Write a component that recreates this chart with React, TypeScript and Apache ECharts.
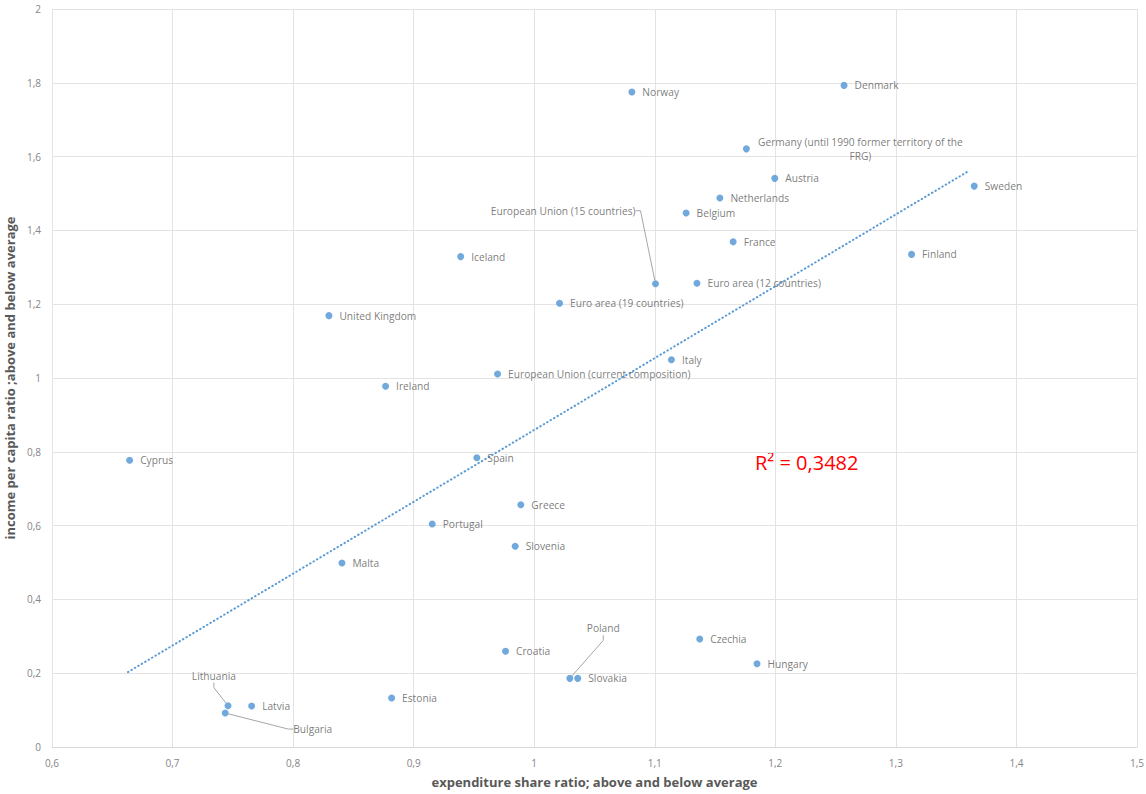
import React, { useEffect, useRef } from "react";
import * as echarts from "echarts";

const names = [
  "Norway", "Denmark", "Germany (until 1990 former territory of the\nFRG)", "Austria", "Netherlands",
  "Belgium", "France", "Sweden", "Finland", "Euro area (12 countries)", "European Union (15 countries)",
  "Iceland", "Euro area (19 countries)", "United Kingdom", "Ireland", "Cyprus", "Malta",
  "European Union (current composition)", "Italy", "Spain", "Greece", "Portugal", "Slovenia",
  "Lithuania", "Bulgaria", "Latvia", "Estonia", "Croatia", "Poland", "Slovakia", "Czechia", "Hungary",
];
const expenditure = [
  1.081, 1.257, 1.176, 1.1995, 1.154,
  1.126, 1.165, 1.365, 1.313, 1.135, 1.1006,
  0.939, 1.021, 0.8297, 0.8767, 0.6644, 0.8405,
  0.9696, 1.1138, 0.9524, 0.9889, 0.9154, 0.9842,
  0.746, 0.7437, 0.7656, 0.8817, 0.9762, 1.0295, 1.0361, 1.1373, 1.1848,
];
const income = [
  1.775, 1.793, 1.621, 1.541, 1.488,
  1.447, 1.369, 1.52, 1.335, 1.257, 1.2555,
  1.329, 1.2024, 1.169, 0.9775, 0.777, 0.4986,
  1.0108, 1.0496, 0.784, 0.6567, 0.6043, 0.5438,
  0.112, 0.092, 0.111, 0.1328, 0.2593, 0.186, 0.186, 0.2927, 0.2258,
];
const trendX = [0.663, 1.3604];
const trendY = [0.203, 1.561];
const r2Text = "R² = 0,3482";
const xTitle = "expenditure share ratio; above and below average";
const yTitle = "income per capita ratio ;above and below average";

const leaderNames = ["European Union (15 countries)", "Lithuania", "Bulgaria", "Poland"];

const fmt = (v: number) => String(Number(v.toFixed(1))).replace(".", ",");

export default function App() {
  const ref = useRef<HTMLDivElement>(null);
  useEffect(() => {
    if (!ref.current) return;
    const chart = echarts.init(ref.current, undefined, { renderer: "svg" });
    const font = "'Open Sans', 'Noto Sans', sans-serif";
    const data = names.map((n, i) => ({
      name: n,
      value: [expenditure[i], income[i]],
      labelLine: { show: leaderNames.includes(n) },
    }));
    chart.setOption({
      animation: false,
      backgroundColor: "#ffffff",
      grid: { left: 52, right: 9, top: 9, bottom: 47, containLabel: false, outerBoundsMode: "none" },
      xAxis: {
        type: "value",
        min: 0.6,
        max: 1.5,
        interval: 0.1,
        name: xTitle,
        nameLocation: "middle",
        nameGap: 28,
        nameTextStyle: { fontFamily: font, fontSize: 13, fontWeight: "bold", color: "#595959" },
        axisLine: { show: true, lineStyle: { color: "#d9d9d9" } },
        axisTick: { show: false },
        axisLabel: { formatter: fmt, fontFamily: font, fontSize: 10, color: "#858585", margin: 11 },
        splitLine: { show: true, lineStyle: { color: "#e3e3e3" } },
      },
      yAxis: {
        type: "value",
        min: 0,
        max: 2,
        interval: 0.2,
        name: yTitle,
        nameLocation: "middle",
        nameGap: 24,
        nameTextStyle: { fontFamily: font, fontSize: 13, fontWeight: "bold", color: "#595959" },
        axisLine: { show: false },
        axisTick: { show: false },
        axisLabel: { formatter: fmt, fontFamily: font, fontSize: 10, color: "#858585", margin: 11 },
        splitLine: { show: true, lineStyle: { color: "#e3e3e3" } },
      },
      series: [
        {
          type: "line",
          data: trendX.map((x, i) => [x, trendY[i]]),
          symbol: "none",
          lineStyle: { color: "#5b9bd5", width: 2, type: [0.5, 3.5], cap: "round" },
          silent: true,
          z: 1,
        },
        {
          type: "scatter",
          data,
          symbol: "circle",
          symbolSize: 7,
          itemStyle: { color: "#4f93d3" },
          z: 2,
          label: {
            show: true,
            position: "right",
            distance: 7,
            formatter: "{b}",
            fontFamily: font,
            fontSize: 10.2,
            lineHeight: 14,
            color: "#595959",
          },
          labelLine: {
            show: false,
            length2: 5,
            lineStyle: { color: "#a6a6a6", width: 1 },
          },
          labelLayout: (p: any) => {
            const n = names[p.dataIndex];
            const r = p.rect;
            const cx = r.x + r.width / 2;
            const cy = r.y + r.height / 2;
            if (n.startsWith("Germany")) {
              return { x: cx + 114, y: cy, align: "center", verticalAlign: "middle" };
            }
            if (n === "European Union (15 countries)") {
              return { x: cx - 20, y: cy - 73, align: "right", verticalAlign: "middle" };
            }
            if (n === "Lithuania") {
              return { x: cx + 8, y: cy - 30, align: "right", verticalAlign: "middle" };
            }
            if (n === "Bulgaria") {
              return { x: cx + 68, y: cy + 16, align: "left", verticalAlign: "middle" };
            }
            if (n === "Poland") {
              return { x: cx + 17, y: cy - 50, align: "left", verticalAlign: "middle" };
            }
            return {};
          },
        },
      ],
      graphic: [
        {
          type: "text",
          left: 755,
          top: 452,
          style: { text: r2Text, fill: "#ff0000", fontSize: 20, fontFamily: font },
        },
      ],
    });
    return () => chart.dispose();
  }, []);
  return (
    <div
      ref={ref}
      style={{ position: "fixed", left: 0, top: 0, width: 1146, height: 794 }}
    />
  );
}
